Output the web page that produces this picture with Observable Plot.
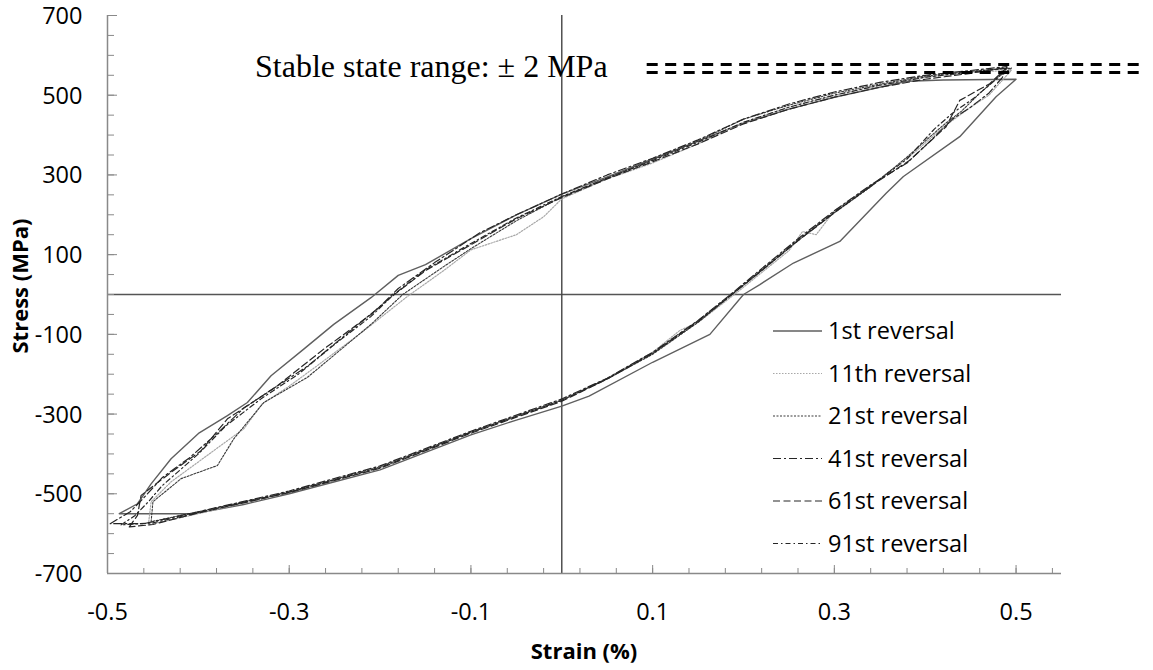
<!DOCTYPE html>
<html><head><meta charset="utf-8">
<script src="https://cdn.jsdelivr.net/npm/d3@7"></script>
<script src="https://cdn.jsdelivr.net/npm/@observablehq/plot@0.6"></script>
<style>
body{margin:0;background:#fff;}
#wrap{position:relative;width:1153px;height:670px;overflow:hidden;}
#wrap svg{overflow:visible;}
#over{position:absolute;left:0;top:0;pointer-events:none;}
</style></head><body><div id="wrap"></div>
<script>
// ---- axis definitions ----
const xDomain = [-0.5, 0.55];
const yDomain = [-700, 700];
const xTickLabels = [-0.5, -0.3, -0.1, 0.1, 0.3, 0.5];
const xMinorTicks = [-0.5,-0.46,-0.42,-0.38,-0.34,-0.3,-0.26,-0.22,-0.18,-0.14,-0.1,-0.06,-0.02,0.02,0.06,0.1,0.14,0.18,0.22,0.26,0.3,0.34,0.38,0.42,0.46,0.5,0.54];
const yTickLabels = [-700, -500, -300, -100, 100, 300, 500, 700];
const yMinorTicks = [-700,-650,-600,-550,-500,-450,-400,-350,-300,-250,-200,-150,-100,-50,0,50,100,150,200,250,300,350,400,450,500,550,600,650,700];
const xTitle = "Strain (%)";
const yTitle = "Stress (MPa)";
const seriesNames = ["1st reversal", "11th reversal", "21st reversal", "41st reversal", "61st reversal", "91st reversal"];

// ---- series: [strain %, stress MPa] ----
const rev1 = [[-0.487,-550],[-0.467,-525],[-0.452,-475],[-0.43,-412],[-0.399,-347],[-0.368,-304],[-0.346,-271],[-0.32,-204],[-0.284,-137],[-0.251,-75],[-0.21,-8],[-0.18,48],[-0.15,75],[-0.1,140],[-0.05,200],[0,252],[0.05,295],[0.1,340],[0.15,385],[0.2,430],[0.25,465],[0.3,495],[0.35,520],[0.38,535],[0.42,538],[0.5,540],
  [0.478,496],[0.438,396],[0.376,296],[0.357,254],[0.306,133],[0.255,79],[0.218,25],[0.2,0],[0.163,-100],[0.1,-170],[0.03,-255],[0,-280],[-0.05,-315],[-0.1,-352],[-0.2,-440],[-0.3,-500],[-0.35,-527],[-0.405,-550],[-0.487,-550]];
const rev11 = [[-0.455,-578],[-0.452,-520],[-0.43,-470],[-0.4,-420],[-0.37,-370],[-0.35,-337],[-0.33,-275],[-0.3,-230],[-0.27,-180],[-0.22,-95],[-0.17,-5],[-0.13,60],[-0.1,112],[-0.05,150],[-0.02,195],[0,240],[0.05,290],[0.1,330],[0.15,378],[0.2,432],[0.25,470],[0.3,500],[0.35,525],[0.4,545],[0.45,557],[0.495,563],
  [0.47,500],[0.45,470],[0.42,420],[0.39,360],[0.35,290],[0.3,210],[0.28,150],[0.265,158],[0.25,110],[0.22,55],[0.19,0],[0.15,-70],[0.13,-90],[0.1,-145],[0.05,-210],[0,-265],[-0.1,-345],[-0.2,-435],[-0.3,-497],[-0.4,-550],[-0.455,-578]];
const rev21 = [[-0.452,-570],[-0.45,-520],[-0.419,-462],[-0.379,-429],[-0.361,-362],[-0.328,-271],[-0.28,-208],[-0.21,-75],[-0.175,0],[-0.13,70],[-0.1,115],[-0.05,185],[0,245],[0.05,292],[0.1,338],[0.15,385],[0.2,440],[0.25,475],[0.3,505],[0.35,528],[0.4,548],[0.45,560],[0.495,568],
  [0.48,545],[0.46,505],[0.44,460],[0.42,425],[0.38,345],[0.34,270],[0.3,205],[0.26,135],[0.22,60],[0.19,5],[0.15,-70],[0.1,-150],[0.05,-212],[0,-265],[-0.1,-345],[-0.2,-432],[-0.3,-495],[-0.4,-545],[-0.452,-570]];
const rev41 = [[-0.497,-575],[-0.475,-545],[-0.46,-510],[-0.44,-460],[-0.41,-410],[-0.38,-350],[-0.35,-285],[-0.32,-240],[-0.28,-180],[-0.24,-105],[-0.2,-30],[-0.18,15],[-0.14,80],[-0.09,155],[-0.05,200],[0,252],[0.05,300],[0.1,342],[0.15,388],[0.2,440],[0.25,478],[0.3,508],[0.35,532],[0.4,550],[0.45,562],[0.49,572],
  [0.485,545],[0.47,505],[0.45,470],[0.43,440],[0.41,395],[0.38,330],[0.34,275],[0.3,210],[0.26,140],[0.22,65],[0.19,8],[0.15,-65],[0.1,-145],[0.05,-210],[0,-262],[-0.1,-343],[-0.2,-430],[-0.3,-493],[-0.4,-545],[-0.46,-575],[-0.497,-575]];
const rev61 = [[-0.476,-583],[-0.467,-554],[-0.463,-504],[-0.43,-446],[-0.397,-392],[-0.368,-312],[-0.313,-229],[-0.262,-137],[-0.21,-50],[-0.19,-10],[-0.15,60],[-0.1,125],[-0.05,190],[0,243],[0.05,290],[0.1,333],[0.15,378],[0.2,428],[0.25,465],[0.3,495],[0.35,520],[0.4,540],[0.45,555],[0.49,570],
  [0.471,529],[0.438,487],[0.423,421],[0.383,337],[0.34,272],[0.3,205],[0.26,135],[0.22,60],[0.19,5],[0.15,-68],[0.1,-148],[0.05,-212],[0,-268],[-0.1,-348],[-0.2,-436],[-0.3,-497],[-0.4,-548],[-0.45,-577],[-0.476,-583]];
const rev91 = [[-0.485,-578],[-0.47,-555],[-0.455,-520],[-0.44,-480],[-0.42,-440],[-0.4,-400],[-0.37,-330],[-0.33,-260],[-0.29,-200],[-0.25,-125],[-0.21,-55],[-0.185,0],[-0.15,62],[-0.1,128],[-0.05,192],[0,246],[0.05,292],[0.1,336],[0.15,382],[0.2,432],[0.25,470],[0.3,500],[0.35,525],[0.4,545],[0.45,558],[0.49,568],
  [0.478,540],[0.455,495],[0.43,455],[0.41,415],[0.38,340],[0.34,272],[0.3,207],[0.26,137],[0.22,62],[0.19,6],[0.15,-66],[0.1,-147],[0.05,-211],[0,-266],[-0.1,-346],[-0.2,-434],[-0.3,-496],[-0.4,-547],[-0.45,-573],[-0.485,-578]];

// ---- annotation ----
const stableText = "Stable state range: \u00b1 2 MPa";
const stableLevels = [577, 557];
const stableFrom = 0.094, stableTo = 0.64;

// ---- styles ----
const seriesData = [rev1, rev11, rev21, rev41, rev61, rev91];
const seriesStyle = [
  {stroke: "#5f5f5f", strokeWidth: 1.4, strokeDasharray: null},
  {stroke: "#a8a8a8", strokeWidth: 1.2, strokeDasharray: "1.5 1.5"},
  {stroke: "#3a3a3a", strokeWidth: 1.1, strokeDasharray: "2 1.5"},
  {stroke: "#262626", strokeWidth: 1.2, strokeDasharray: "8 3 2 3"},
  {stroke: "#262626", strokeWidth: 1.2, strokeDasharray: "7 3.5"},
  {stroke: "#262626", strokeWidth: 1.2, strokeDasharray: "5 3 1.5 3"}
];
const axisGray = "#898989";
const fmt = d => String(d);

const plot = Plot.plot({
  width: 1153, height: 670,
  marginLeft: 107, marginRight: 92, marginTop: 15, marginBottom: 97,
  style: {fontFamily: "'Open Sans', sans-serif", fontSize: "23.5px", color: "#000", background: "transparent", overflow: "visible"},
  x: {domain: xDomain},
  y: {domain: yDomain},
  marks: [
    Plot.ruleY([0], {stroke: "#555", strokeWidth: 1.4}),
    Plot.ruleX([0], {stroke: "#444", strokeWidth: 1.4}),
    Plot.ruleX([xDomain[0]], {stroke: axisGray, strokeWidth: 1.5}),
    Plot.ruleY([yDomain[0]], {stroke: axisGray, strokeWidth: 1.5}),
    Plot.axisY(yMinorTicks, {tickSize: 7, dx: 7, stroke: axisGray, tickFormat: () => "", label: null}),
    Plot.axisY(yTickLabels, {tickSize: 10, dx: 10, stroke: axisGray, tickFormat: () => "", label: null}),
    Plot.axisY(yTickLabels, {tickSize: 0, tickPadding: 25, tickFormat: fmt, label: null, dy: 1}),
    Plot.axisX(xMinorTicks, {tickSize: 5, dy: -5, stroke: axisGray, tickFormat: () => "", label: null}),
    Plot.axisX(xTickLabels, {tickSize: 8, dy: -8, stroke: axisGray, tickFormat: () => "", label: null}),
    Plot.axisX(xTickLabels, {tickSize: 0, tickPadding: 30, tickFormat: fmt, label: null}),
    ...seriesData.map((s, i) => Plot.line(s, {x: d => d[0], y: d => d[1], ...seriesStyle[i], curve: "linear"})),
    Plot.ruleY(stableLevels, {x1: stableFrom, x2: stableTo, stroke: "#000", strokeWidth: 3, strokeDasharray: "11 7.5"})
  ]
});
const wrap = document.getElementById("wrap");
wrap.appendChild(plot);

// overlay: titles, annotation, legend
const svg = d3.select(wrap).append("svg").attr("id", "over").attr("width", 1153).attr("height", 670);
svg.append("text").attr("x", 584).attr("y", 659).attr("text-anchor", "middle")
  .attr("font-family", "'Open Sans', sans-serif").attr("font-weight", "bold").attr("font-size", 22).text(xTitle);
svg.append("text").attr("transform", "translate(28,286) rotate(-90)").attr("text-anchor", "middle")
  .attr("font-family", "'Open Sans', sans-serif").attr("font-weight", "bold").attr("font-size", 22).text(yTitle);
svg.append("text").attr("x", 255).attr("y", 77)
  .attr("font-family", "'Liberation Serif', 'Times New Roman', serif").attr("font-size", 32).text(stableText);
const leg = svg.append("g").attr("transform", "translate(772,331)");
seriesNames.forEach((name, i) => {
  const g = leg.append("g").attr("transform", `translate(0,${i * 42.5})`);
  const st = seriesStyle[i];
  g.append("line").attr("x1", 1).attr("x2", 50).attr("y1", 0).attr("y2", 0)
    .attr("stroke", st.stroke).attr("stroke-width", st.strokeWidth)
    .attr("stroke-dasharray", st.strokeDasharray);
  g.append("text").attr("x", 56).attr("y", 8.4)
    .attr("font-family", "'Open Sans', sans-serif").attr("font-size", 23.5).text(name);
});
</script>
</body></html>
